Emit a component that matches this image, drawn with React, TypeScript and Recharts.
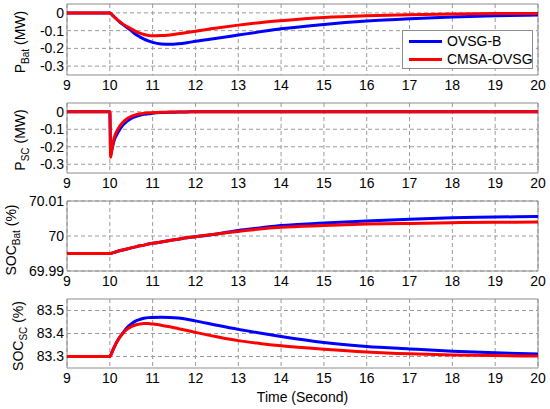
import { LineChart, Line, XAxis, YAxis, CartesianGrid, ReferenceArea } from 'recharts';

const FONT = '"Liberation Sans", Arial, sans-serif';
const BLUE = '#0000ff';
const RED = '#ff0000';
const GRID = '#9a9a9a';

const time = [9, 10, 10.02, 10.05, 10.1, 10.2, 10.3, 10.4, 10.5, 10.6, 10.7, 10.8, 10.9, 11, 11.2, 11.4, 11.6, 11.8, 12, 12.5, 13, 13.5, 14, 15, 16, 17, 18, 19, 20];
const xTicks = [9, 10, 11, 12, 13, 14, 15, 16, 17, 18, 19, 20];

// P_Bat (MW)
const pBatOvsg = [0, 0, -0.003, -0.01, -0.022, -0.045, -0.065, -0.083, -0.1, -0.12, -0.135, -0.148, -0.158, -0.166, -0.175, -0.177, -0.174, -0.168, -0.16, -0.143, -0.125, -0.107, -0.09, -0.065, -0.046, -0.033, -0.023, -0.016, -0.012];
const pBatCmsa = [0, 0, -0.003, -0.01, -0.022, -0.044, -0.062, -0.077, -0.09, -0.104, -0.114, -0.122, -0.127, -0.129, -0.128, -0.124, -0.118, -0.111, -0.103, -0.085, -0.069, -0.055, -0.044, -0.026, -0.016, -0.01, -0.006, -0.004, -0.003];

// P_SC (MW)
const pScOvsg = [0, 0, -0.245, -0.215, -0.165, -0.115, -0.078, -0.055, -0.038, -0.028, -0.02, -0.015, -0.012, -0.009, -0.005, -0.003, -0.002, -0.001, 0, 0, 0, 0, 0, 0, 0, 0, 0, 0, 0];
const pScCmsa = [0, 0, -0.26, -0.21, -0.15, -0.095, -0.062, -0.04, -0.027, -0.018, -0.012, -0.009, -0.006, -0.005, -0.003, -0.002, -0.001, -0.001, 0, 0, 0, 0, 0, 0, 0, 0, 0, 0, 0];

// SOC_Bat (%)
const socBatOvsg = [69.995, 69.995, 69.995, 69.9951, 69.9953, 69.9957, 69.996, 69.9963, 69.9966, 69.9969, 69.9972, 69.9974, 69.9977, 69.9979, 69.9983, 69.9987, 69.9991, 69.9995, 69.9998, 70.0006, 70.0016, 70.0023, 70.003, 70.0037, 70.0043, 70.0048, 70.0052, 70.0054, 70.0056];
const socBatCmsa = [69.995, 69.995, 69.995, 69.9951, 69.9953, 69.9957, 69.996, 69.9963, 69.9966, 69.9969, 69.9972, 69.9974, 69.9977, 69.9979, 69.9983, 69.9987, 69.9991, 69.9995, 69.9998, 70.0006, 70.0013, 70.002, 70.0025, 70.003, 70.0034, 70.0036, 70.0038, 70.0039, 70.004];

// SOC_SC (%)
const socScOvsg = [83.3, 83.3, 83.305, 83.318, 83.34, 83.375, 83.401, 83.425, 83.442, 83.454, 83.461, 83.466, 83.469, 83.47, 83.471, 83.47, 83.467, 83.462, 83.455, 83.436, 83.418, 83.402, 83.387, 83.361, 83.344, 83.333, 83.323, 83.316, 83.311];
const socScCmsa = [83.3, 83.3, 83.305, 83.318, 83.34, 83.375, 83.4, 83.418, 83.43, 83.437, 83.441, 83.443, 83.443, 83.441, 83.436, 83.429, 83.421, 83.413, 83.405, 83.386, 83.369, 83.357, 83.347, 83.332, 83.32, 83.312, 83.307, 83.304, 83.302];

const legendItems = [
  { name: 'OVSG-B', color: BLUE },
  { name: 'CMSA-OVSG', color: RED },
];

const toRows = (b: number[], r: number[]) => time.map((t, i) => ({ t, b: b[i], r: r[i] }));

const fmtP = (v: number) => (v === 0 ? '0' : v.toFixed(1));
const fmtPlain = (v: number) => String(v);

interface PanelProps {
  top: number;
  mt: number;
  plotH: number;
  xh: number;
  rows: Array<{ t: number; b: number; r: number }>;
  domain: [number, number];
  ticks: number[];
  fmt: (v: number) => string;
  title: { main: string; sub: string; unit: string; x: number; cy: number };
  xTitle?: string;
}

function Panel({ top, mt, plotH, xh, rows, domain, ticks, fmt, title, xTitle }: PanelProps) {
  const height = mt + plotH + xh;
  const cy = title.cy - top;
  return (
    <div style={{ position: 'absolute', left: 0, top }}>
      <LineChart width={550} height={height} data={rows} margin={{ top: mt, right: 12, bottom: 0, left: 0 }}>
        <CartesianGrid stroke={GRID} strokeDasharray="4 3" horizontalValues={ticks} verticalValues={xTicks} />
        <XAxis
          type="number"
          dataKey="t"
          domain={[9, 20]}
          ticks={xTicks}
          interval={0}
          allowDataOverflow
          height={xh}
          tickSize={0}
          tickMargin={5}
          axisLine={false}
          tick={{ fontSize: 14, fill: '#000', fontFamily: FONT }}
          label={
            xTitle
              ? { value: xTitle, position: 'insideBottom', offset: 6, fontSize: 14, fill: '#000', fontFamily: FONT }
              : undefined
          }
        />
        <YAxis
          type="number"
          domain={domain}
          ticks={ticks}
          interval={0}
          allowDataOverflow
          width={67}
          tickSize={0}
          tickMargin={3}
          axisLine={false}
          tickFormatter={fmt}
          tick={{ fontSize: 14, fill: '#000', fontFamily: FONT }}
          label={{
            content: () => (
              <text
                transform={`translate(${title.x},${cy}) rotate(-90)`}
                textAnchor="middle"
                fontSize={14}
                fontFamily={FONT}
                fill="#000"
              >
                {title.main}
                <tspan fontSize={10} dy={4}>{title.sub}</tspan>
                <tspan dy={-4}>{' ' + title.unit}</tspan>
              </text>
            ),
          }}
        />
        <ReferenceArea x1={9} x2={20} y1={domain[0]} y2={domain[1]} fill="none" stroke="#8c8c8c" strokeWidth={1} />
        <Line dataKey="b" type="monotone" stroke={BLUE} strokeWidth={3} dot={false} isAnimationActive={false} />
        <Line dataKey="r" type="monotone" stroke={RED} strokeWidth={3} dot={false} isAnimationActive={false} />
      </LineChart>
    </div>
  );
}

export default function App() {
  return (
    <div style={{ position: 'absolute', left: 0, top: 0, width: 550, height: 409, overflow: 'hidden', background: '#fff' }}>
      <Panel
        top={0}
        mt={4}
        plotH={71}
        xh={22}
        rows={toRows(pBatOvsg, pBatCmsa)}
        domain={[-0.35, 0.05]}
        ticks={[-0.3, -0.2, -0.1, 0]}
        fmt={fmtP}
        title={{ main: 'P', sub: 'Bat', unit: '(MW)', x: 25, cy: 42 }}
      />
      <Panel
        top={95}
        mt={8}
        plotH={70}
        xh={22}
        rows={toRows(pScOvsg, pScCmsa)}
        domain={[-0.35, 0.05]}
        ticks={[-0.3, -0.2, -0.1, 0]}
        fmt={fmtP}
        title={{ main: 'P', sub: 'SC', unit: '(MW)', x: 25, cy: 140 }}
      />
      <Panel
        top={193}
        mt={8}
        plotH={70}
        xh={22}
        rows={toRows(socBatOvsg, socBatCmsa)}
        domain={[69.99, 70.01]}
        ticks={[69.99, 70, 70.01]}
        fmt={fmtPlain}
        title={{ main: 'SOC', sub: 'Bat', unit: '(%)', x: 16, cy: 240 }}
      />
      <Panel
        top={291}
        mt={8}
        plotH={69}
        xh={40}
        rows={toRows(socScOvsg, socScCmsa)}
        domain={[83.25, 83.55]}
        ticks={[83.3, 83.4, 83.5]}
        fmt={fmtPlain}
        title={{ main: 'SOC', sub: 'SC', unit: '(%)', x: 23, cy: 336 }}
        xTitle="Time (Second)"
      />
      <div
        style={{
          position: 'absolute',
          left: 402,
          top: 30,
          width: 129,
          height: 37,
          background: '#fff',
          border: '1px solid #8c8c8c',
          fontFamily: FONT,
          fontSize: 14,
        }}
      >
        {legendItems.map((item, i) => (
          <div
            key={item.name}
            style={{ position: 'absolute', left: 6, top: 2 + i * 17.5, height: 17, display: 'flex', alignItems: 'center', whiteSpace: 'nowrap' }}
          >
            <div style={{ width: 33, height: 3, background: item.color, marginRight: 5, flexShrink: 0 }} />
            <span style={{ color: '#000', lineHeight: '17px' }}>{item.name}</span>
          </div>
        ))}
      </div>
    </div>
  );
}
